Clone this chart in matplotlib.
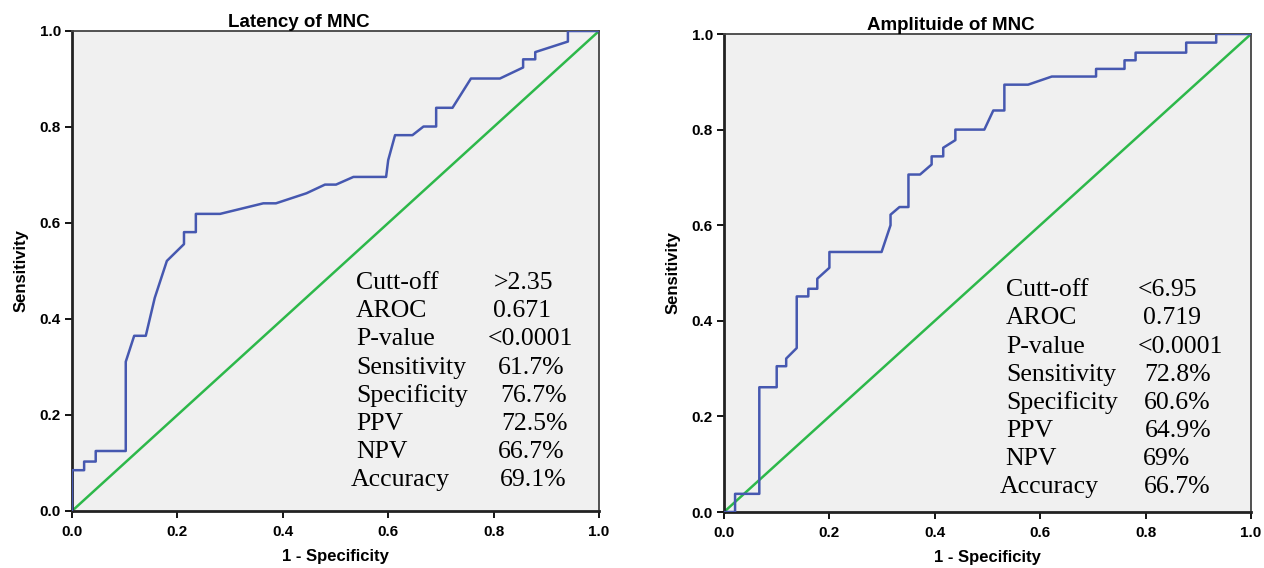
import matplotlib
matplotlib.use("Agg")
import matplotlib.pyplot as plt

# ROC curve for latency of MNC (1 - specificity, sensitivity)
lat_fpr = [0.0, 0.0, 0.023, 0.023, 0.045, 0.045, 0.102, 0.102, 0.118, 0.140, 0.157,
           0.180, 0.2125, 0.2125, 0.235, 0.235, 0.281, 0.363, 0.387, 0.445, 0.480,
           0.501, 0.534, 0.596, 0.600, 0.613, 0.646, 0.667, 0.691, 0.691, 0.722,
           0.757, 0.812, 0.856, 0.856, 0.879, 0.879, 0.941, 0.941, 1.0]
lat_sens = [0.0, 0.085, 0.085, 0.103, 0.103, 0.125, 0.125, 0.311, 0.365, 0.365, 0.444,
            0.521, 0.556, 0.581, 0.581, 0.619, 0.619, 0.641, 0.641, 0.662, 0.680,
            0.680, 0.696, 0.696, 0.731, 0.783, 0.783, 0.801, 0.801, 0.840, 0.840,
            0.901, 0.901, 0.924, 0.941, 0.941, 0.956, 0.978, 1.0, 1.0]

# ROC curve for amplitude of MNC
amp_fpr = [0.0, 0.021, 0.021, 0.067, 0.067, 0.100, 0.100, 0.118, 0.118, 0.138, 0.138,
           0.160, 0.160, 0.177, 0.177, 0.200, 0.200, 0.299, 0.316, 0.316, 0.333,
           0.350, 0.350, 0.372, 0.394, 0.394, 0.416, 0.416, 0.439, 0.439, 0.494,
           0.511, 0.532, 0.532, 0.577, 0.622, 0.706, 0.706, 0.760, 0.760, 0.781,
           0.781, 0.877, 0.877, 0.934, 0.934, 1.0]
amp_sens = [0.0, 0.0, 0.038, 0.038, 0.261, 0.261, 0.305, 0.305, 0.321, 0.343, 0.451,
            0.451, 0.467, 0.467, 0.488, 0.511, 0.544, 0.544, 0.600, 0.622, 0.638,
            0.638, 0.706, 0.706, 0.727, 0.744, 0.744, 0.762, 0.778, 0.800, 0.800,
            0.840, 0.840, 0.894, 0.894, 0.911, 0.911, 0.927, 0.927, 0.945, 0.945,
            0.961, 0.961, 0.982, 0.982, 1.0, 1.0]

stat_names = ["Cutt-off", "AROC", "P-value", "Sensitivity", "Specificity",
              "PPV", "NPV", "Accuracy"]
lat_values = [">2.35", "0.671", "<0.0001", "61.7%", "76.7%", "72.5%", "66.7%", "69.1%"]
amp_values = ["<6.95", "0.719", "<0.0001", "72.8%", "60.6%", "64.9%", "69%", "66.7%"]

titles = ["Latency of MNC", "Amplituide of MNC"]
ticks = [0.0, 0.2, 0.4, 0.6, 0.8, 1.0]

blue = "#4658b0"
green = "#2db84a"

fig = plt.figure(figsize=(12.64, 5.68), dpi=100)
ax1 = fig.add_axes([72/1264, 1-511/568, 527/1264, 480/568])
ax2 = fig.add_axes([724/1264, 1-512/568, 527/1264, 478/568])

# text layout per panel: label x, value x, top y, row step, x shifts (axes units)
layouts = [
    dict(lx=0.539, vx=0.800, y0=0.475, dy=0.0587,
         lshift=[0, 0, 0, 0, 0, 0, 0, -0.011],
         vshift=[0, -0.002, -0.011, 0.009, 0.013, 0.015, 0.009, 0.011]),
    dict(lx=0.535, vx=0.786, y0=0.464, dy=0.0589,
         lshift=[0, 0, 0, 0, 0, 0, -0.002, -0.011],
         vshift=[0, 0.009, 0, 0.011, 0.011, 0.013, 0.009, 0.011]),
]

panels = [(ax1, lat_fpr, lat_sens, lat_values), (ax2, amp_fpr, amp_sens, amp_values)]
for i, (ax, fpr, sens, vals) in enumerate(panels):
    ax.set_facecolor("#f0f0f0")
    ax.plot(fpr, sens, color=blue, lw=1.8, zorder=3)
    ax.plot([0, 1], [0, 1], color=green, lw=1.8, zorder=2)
    ax.set_xlim(0, 1)
    ax.set_ylim(0, 1)
    ax.set_xticks(ticks)
    ax.set_yticks(ticks)
    ax.set_xticklabels([f"{t:.1f}" for t in ticks])
    ax.set_yticklabels([f"{t:.1f}" for t in ticks])
    ax.tick_params(direction="out", length=5, width=1.3, labelsize=11, pad=3)
    ax.tick_params(axis="x", pad=5)
    for lab in ax.get_xticklabels() + ax.get_yticklabels():
        lab.set_fontweight("bold")
        lab.set_fontfamily("Liberation Sans")
    for side in ["left", "bottom"]:
        ax.spines[side].set_linewidth(2)
        ax.spines[side].set_color("#222222")
    for side in ["top", "right"]:
        ax.spines[side].set_linewidth(1.3)
        ax.spines[side].set_color("#444444")
    ax.set_xlabel("1 - Specificity", fontsize=12, fontweight="bold",
                  family="Liberation Sans", labelpad=7.5)
    ax.set_ylabel("Sensitivity", fontsize=12, fontweight="bold",
                  family="Liberation Sans", labelpad=8)
    ax.text(0.431, 1.009, titles[i], transform=ax.transAxes, ha="center", va="baseline",
            fontsize=13.5, fontweight="bold", family="Liberation Sans")
    lay = layouts[i]
    for k, (name, val) in enumerate(zip(stat_names, vals)):
        y = lay["y0"] - k * lay["dy"]
        ax.text(lay["lx"] + lay["lshift"][k], y, name, ha="left", va="center",
                fontsize=18.5, family="Liberation Serif", zorder=4)
        ax.text(lay["vx"] + lay["vshift"][k], y, val, ha="left", va="center",
                fontsize=18.5, family="Liberation Serif", zorder=4)

fig.savefig("out.png", dpi=100)
